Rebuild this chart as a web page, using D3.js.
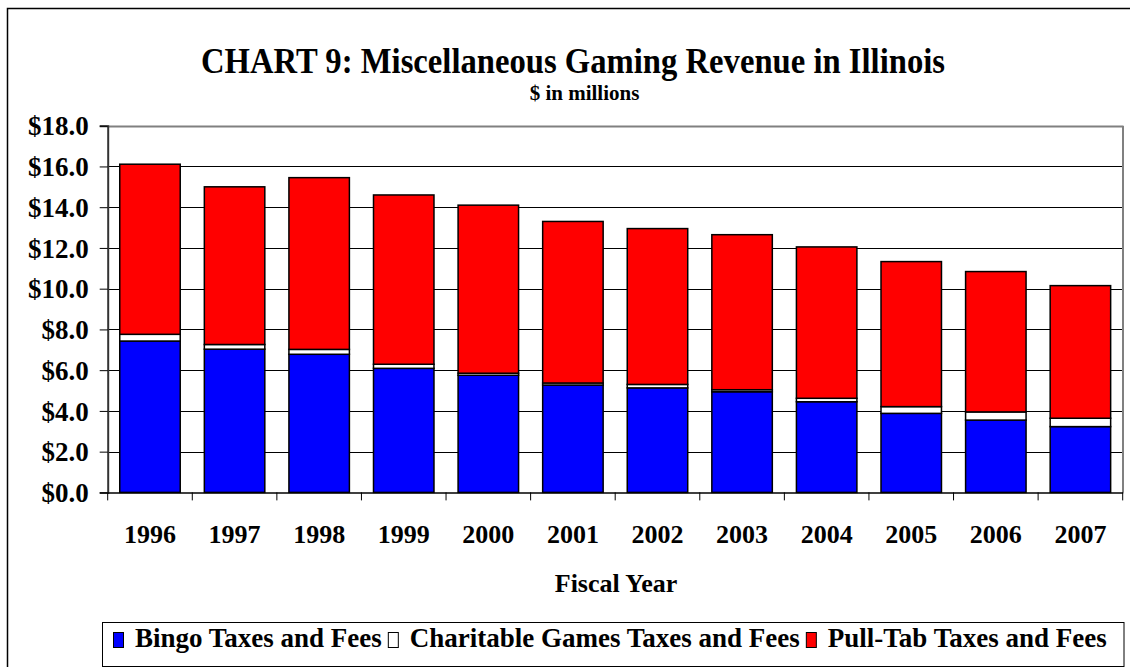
<!DOCTYPE html>
<html>
<head>
<meta charset="utf-8">
<script src="https://cdn.jsdelivr.net/npm/d3@7"></script>
<style>
  html, body { margin: 0; padding: 0; background: #fff; }
  svg { display: block; }
  text { font-family: "Liberation Serif", "Times New Roman", serif; font-weight: bold; fill: #000; }
</style>
</head>
<body>
<svg id="chart" width="1130" height="667"></svg>
<script>
const years = ['1996','1997','1998','1999','2000','2001','2002','2003','2004','2005','2006','2007'];
const bingo = [7.43, 7.03, 6.78, 6.09, 5.75, 5.27, 5.13, 4.94, 4.45, 3.88, 3.55, 3.23];
const charitable = [0.33, 0.23, 0.24, 0.20, 0.10, 0.10, 0.17, 0.10, 0.17, 0.33, 0.40, 0.41];
const pullTab = [8.35, 7.74, 8.43, 8.31, 8.25, 7.93, 7.65, 7.61, 7.43, 7.12, 6.89, 6.51];
const yTicks = [0, 2, 4, 6, 8, 10, 12, 14, 16, 18];
const seriesNames = ['Bingo Taxes and Fees', 'Charitable Games Taxes and Fees', 'Pull-Tab Taxes and Fees'];
const seriesColors = ['#0000ff', '#ffffff', '#ff0000'];
const titleText = 'CHART 9: Miscellaneous Gaming Revenue in Illinois';
const subtitleText = '$ in millions';
const xTitle = 'Fiscal Year';

const svg = d3.select('#chart');

// outer chart border
svg.append('rect').attr('x', 7.5).attr('y', 8.5).attr('width', 1140).attr('height', 680)
  .attr('fill', '#fff').attr('stroke', '#000').attr('stroke-width', 1.5);

const pLeft = 107.7, pRight = 1122.7, pTop = 125.7, pBottom = 492.4;

const x = d3.scaleBand().domain(years).range([pLeft, pRight]).paddingInner(0.285).paddingOuter(0.1425);
const y = d3.scaleLinear().domain([0, 18]).range([pBottom, pTop]);

// gridlines
svg.append('g').selectAll('line').data(yTicks.filter(t => t > 0 && t < 18)).join('line')
  .attr('x1', pLeft).attr('x2', pRight)
  .attr('y1', d => Math.round(y(d)) + 0.5).attr('y2', d => Math.round(y(d)) + 0.5)
  .attr('stroke', '#000').attr('stroke-width', 1);

// plot area border (top & right gray)
svg.append('line').attr('x1', pLeft).attr('x2', pRight).attr('y1', Math.round(pTop)+0.5).attr('y2', Math.round(pTop)+0.5)
  .attr('stroke', '#808080').attr('stroke-width', 2);
svg.append('line').attr('x1', Math.round(pRight)).attr('x2', Math.round(pRight)).attr('y1', pTop).attr('y2', pBottom)
  .attr('stroke', '#808080').attr('stroke-width', 2);

// stacked bars
const table = years.map((yr, i) => ({ year: yr, bingo: bingo[i], charitable: charitable[i], pullTab: pullTab[i] }));
const stack = d3.stack().keys(['bingo', 'charitable', 'pullTab'])(table);
svg.append('g').selectAll('g').data(stack).join('g')
  .attr('fill', (d, i) => seriesColors[i])
  .selectAll('rect').data(d => d).join('rect')
  .attr('x', d => x(d.data.year))
  .attr('width', x.bandwidth())
  .attr('y', d => y(d[1]))
  .attr('height', d => y(d[0]) - y(d[1]))
  .attr('stroke', '#000').attr('stroke-width', 1.5);

// y axis
const yAxis = d3.axisLeft(y).tickValues(yTicks).tickSize(8).tickPadding(11)
  .tickFormat(d => '$' + d3.format('.1f')(d));
const gy = svg.append('g').attr('transform', `translate(${pLeft},0)`).call(yAxis);
gy.select('.domain').attr('stroke', '#333').attr('stroke-width', 2);
gy.selectAll('.tick line').attr('stroke', '#000');
gy.selectAll('.tick text').style('font-size', '27px').attr('dy', '0.34em');

// x axis
const xAxis = d3.axisBottom(x).tickSize(0).tickPadding(32);
const gx = svg.append('g').attr('transform', `translate(0,${pBottom})`).call(xAxis);
gx.select('.domain').attr('stroke', '#000').attr('stroke-width', 1.5);
gx.selectAll('.tick text').style('font-size', '26px');
// x tick marks at category boundaries
const boundaries = years.slice(1).map(yr => x(yr) - x.step() * x.paddingInner() / 2);
boundaries.unshift(pLeft);
boundaries.push(pRight);
gx.append('g').selectAll('line').data(boundaries).join('line')
  .attr('x1', d => d).attr('x2', d => d).attr('y1', 0).attr('y2', 8)
  .attr('stroke', '#000');

// x axis title
svg.append('text').attr('x', 616).attr('y', 592).attr('text-anchor', 'middle')
  .style('font-size', '26px').text(xTitle);

// titles
svg.append('text').attr('x', 573).attr('y', 73).attr('text-anchor', 'middle')
  .style('font-size', '35px').attr('textLength', 744).attr('lengthAdjust', 'spacingAndGlyphs')
  .text(titleText);
svg.append('text').attr('x', 584.5).attr('y', 100).attr('text-anchor', 'middle')
  .style('font-size', '21px').text(subtitleText);

// legend
const lg = svg.append('g');
lg.append('rect').attr('x', 102.5).attr('y', 622.5).attr('width', 1021.5).attr('height', 44)
  .attr('fill', '#fff').attr('stroke', '#000').attr('stroke-width', 1);
let cursor = 113;
seriesNames.forEach((name, i) => {
  lg.append('rect').attr('x', cursor + 0.5).attr('y', 632.5).attr('width', 10).attr('height', 15)
    .attr('fill', seriesColors[i]).attr('stroke', '#000').attr('stroke-width', 1);
  const t = lg.append('text').attr('x', cursor + 22).attr('y', 647).style('font-size', '27px').text(name);
  cursor += 22 + t.node().getComputedTextLength() + 6;
});
</script>
</body>
</html>
